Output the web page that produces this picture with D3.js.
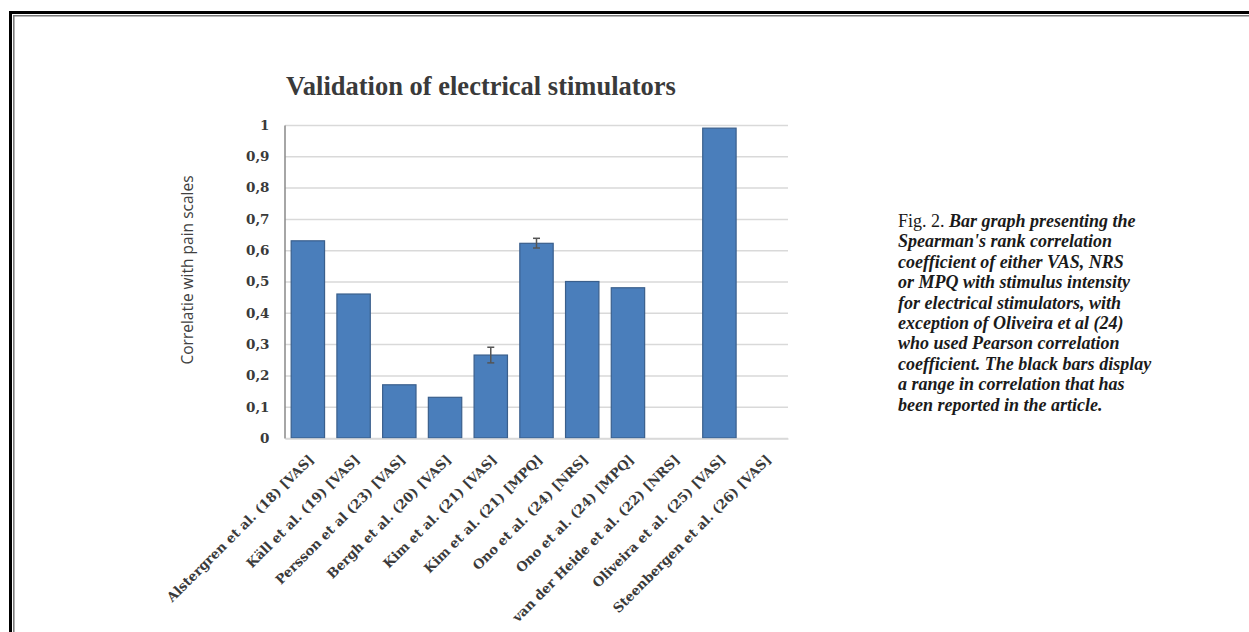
<!DOCTYPE html>
<html><head><meta charset="utf-8">
<script src="https://cdn.jsdelivr.net/npm/d3@7"></script>
<style>body{margin:0;background:#fff;}svg{display:block;}</style>
</head><body>
<svg id="c" width="1249" height="632"></svg>
<script>
const categories = ["Alstergren et al. (18) [VAS]","Käll et al. (19) [VAS]","Persson et al (23) [VAS]","Bergh et al. (20) [VAS]","Kim et al. (21) [VAS]","Kim et al. (21) [MPQ]","Ono et al. (24) [NRS]","Ono et al. (24) [MPQ]","van der Heide et al. (22) [NRS]","Oliveira et al. (25) [VAS]","Steenbergen et al. (26) [VAS]"];
const values = [0.63, 0.46, 0.17, 0.13, 0.265, 0.622, 0.50, 0.48, null, 0.99, null];
const errLow = [null, null, null, null, 0.24, 0.607, null, null, null, null, null];
const errHigh = [null, null, null, null, 0.29, 0.638, null, null, null, null, null];
const yTicks = [0,0.1,0.2,0.3,0.4,0.5,0.6,0.7,0.8,0.9,1];
const captionLines = [
 ["Fig. 2. ","Bar graph presenting the"],
 ["","Spearman's rank correlation"],
 ["","coefficient of either VAS, NRS"],
 ["","or MPQ with stimulus intensity"],
 ["","for electrical stimulators, with"],
 ["","exception of Oliveira et al (24)"],
 ["","who used Pearson correlation"],
 ["","coefficient. The black bars display"],
 ["","a range in correlation that has"],
 ["","been reported in the article."]
];

const svg = d3.select("#c");
// frame
svg.append("path").attr("d","M10.5,632 V12.5 H1249").attr("fill","none").attr("stroke","#000").attr("stroke-width",3);
svg.append("path").attr("d","M13.8,632 V15.8 H1249").attr("fill","none").attr("stroke","#777").attr("stroke-width",1.5);

const x = d3.scaleBand().domain(categories).range([285,788]).paddingInner(0.27).paddingOuter(0.135);
const y = d3.scaleLinear().domain([0,1]).range([438,125]);
const serif = "'Liberation Serif', serif";
const dserif = "'DejaVu Serif', serif";

// gridlines
svg.append("g").selectAll("line").data(yTicks).join("line")
  .attr("x1",285).attr("x2",788).attr("y1",d=>y(d)+0.5).attr("y2",d=>y(d)+0.5)
  .attr("stroke","#d9d9d9").attr("stroke-width",1.5);

// y axis
const ya = svg.append("g").attr("transform","translate(284.5,0)")
  .call(d3.axisLeft(y).tickValues(yTicks).tickSize(0).tickPadding(15)
   .tickFormat(d=>String(d).replace(".",",")));
ya.select(".domain").attr("stroke","#888").attr("stroke-width",1.5);
ya.selectAll("text").attr("font-family",dserif).attr("font-weight","bold").attr("font-size",13.5).attr("fill","#3a3a3a");

// bars
svg.append("g").selectAll("rect").data(categories.map((c,i)=>({c,v:values[i]})).filter(d=>d.v!=null)).join("rect")
  .attr("x",d=>x(d.c)).attr("width",x.bandwidth()).attr("y",d=>y(d.v)).attr("height",d=>y(0)-y(d.v))
  .attr("fill","#4a7ebb").attr("stroke","#3a5f8c").attr("stroke-width",1.2);

// error bars
const eb = categories.map((c,i)=>({c,lo:errLow[i],hi:errHigh[i]})).filter(d=>d.lo!=null);
const eg = svg.append("g").attr("stroke","#555").attr("stroke-width",1.5);
eb.forEach(d=>{
  const cx = x(d.c)+x.bandwidth()/2;
  eg.append("line").attr("x1",cx).attr("x2",cx).attr("y1",y(d.hi)).attr("y2",y(d.lo));
  eg.append("line").attr("x1",cx-3.5).attr("x2",cx+3.5).attr("y1",y(d.hi)).attr("y2",y(d.hi));
  eg.append("line").attr("x1",cx-3.5).attr("x2",cx+3.5).attr("y1",y(d.lo)).attr("y2",y(d.lo));
});

// x axis
const xa = svg.append("g").attr("transform","translate(0,438.5)")
  .call(d3.axisBottom(x).tickSize(0).tickPadding(0));
xa.select(".domain").attr("stroke","#d9d9d9").attr("stroke-width",1.5);
xa.selectAll("text").attr("font-family",dserif).attr("font-weight","bold").attr("font-size",13.2).attr("fill","#3a3a3a")
  .attr("text-anchor","end").attr("dy","0.35em")
  .attr("transform","translate(3.5,18.5) rotate(-45)");

// title
svg.append("text").attr("x",481).attr("y",95).attr("text-anchor","middle")
  .attr("font-family",serif).attr("font-weight","bold").attr("font-size",26.5).attr("fill","#3a3a3a")
  .text("Validation of electrical stimulators");

// y title
svg.append("text").attr("transform","translate(193,270) rotate(-90)").attr("text-anchor","middle")
  .attr("font-family","'Open Sans', sans-serif").attr("font-size",15.5).attr("fill","#404040")
  .text("Correlatie with pain scales");

// caption
const cap = svg.append("g").attr("font-family",serif).attr("font-size",18).attr("fill","#1a1a1a");
captionLines.forEach((l,i)=>{
  const t = cap.append("text").attr("x",898).attr("y",227+i*20.4);
  if(l[0]) t.append("tspan").text(l[0]);
  t.append("tspan").attr("font-style","italic").attr("font-weight","bold").text(l[1]);
});
</script>
</body></html>
